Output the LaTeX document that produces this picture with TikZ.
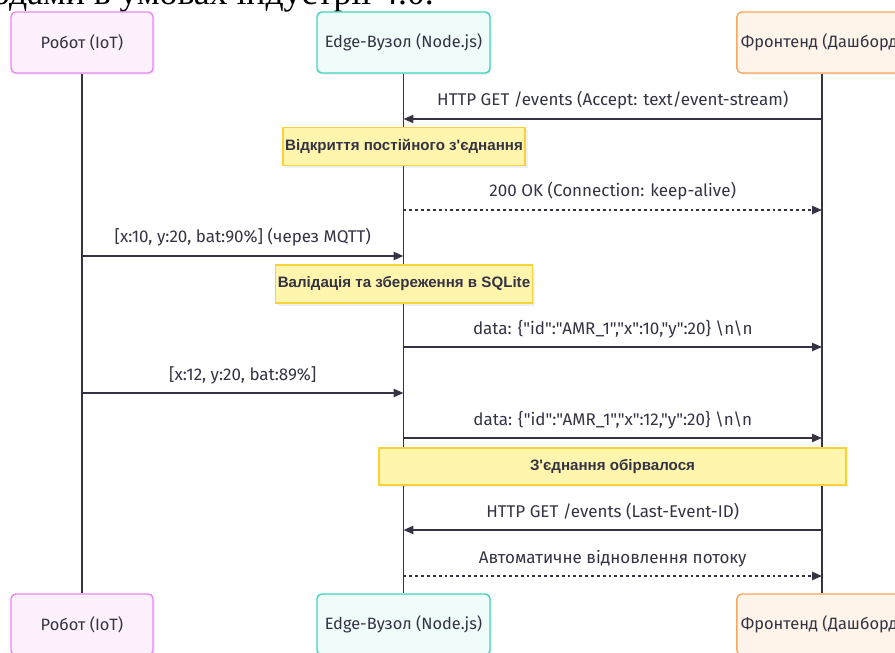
\documentclass[tikz,border=0pt]{standalone}
\usepackage{fontspec}
\newfontfamily\msgfont{Fira Sans}
\newfontfamily\notefont{Liberation Sans}
\newfontfamily\headfont{Liberation Serif}
\usetikzlibrary{arrows.meta,shadows}

\definecolor{linecol}{HTML}{333344}
\definecolor{robotfill}{HTML}{FDF0FD}
\definecolor{robotdraw}{HTML}{E987F2}
\definecolor{edgefill}{HTML}{EFFCF9}
\definecolor{edgedraw}{HTML}{3DD6BE}
\definecolor{frontfill}{HTML}{FFF4EA}
\definecolor{frontdraw}{HTML}{FCA55C}
\definecolor{notefill}{HTML}{FFF5AD}
\definecolor{notedraw}{HTML}{F7D238}

\tikzset{
  actor/.style={draw, rounded corners=4pt, line width=1.2pt, minimum height=1.83cm,
    text=linecol, font=\msgfont\fontsize{14}{16}\selectfont,
    drop shadow={shadow xshift=1.5pt, shadow yshift=-1.5pt, opacity=0.12}},
  lifeline/.style={draw=linecol, line width=1.2pt},
  msg/.style={draw=linecol, line width=1.4pt, -{Triangle[length=8.5pt, width=7pt]}},
  reply/.style={msg, dash pattern=on 2.5pt off 2.5pt},
  msglabel/.style={anchor=base, yshift=0.39cm, text=linecol,
    font=\msgfont\fontsize{14.5}{16}\selectfont},
  notebox/.style={draw=notedraw, fill=notefill, line width=1.2pt, inner xsep=2pt,
    minimum height=1.15cm, text=linecol, font=\notefont\bfseries\fontsize{12.9}{15}\selectfont,
    drop shadow={shadow xshift=2pt, shadow yshift=-2pt, opacity=0.12}}
}

\begin{document}
\begin{tikzpicture}[x=0.03cm, y=-0.03cm]
  \useasboundingbox (0,0) rectangle (895,653);
  \clip (0,0) rectangle (895,653);

  % Heading line running in from above
  \node[anchor=base west, inner sep=0pt, font=\headfont\fontsize{30.5}{34}\selectfont]
    (heading) at (-8,4.5) {одами в умовах індустрії 4.0.};

  % Drawing participants, top row
  \node[actor, draw=robotdraw, fill=robotfill, minimum width=4.26cm] (robotTop) at (82,42.5) {Робот (IoT)};
  \node[actor, draw=edgedraw, fill=edgefill, minimum width=5.19cm] (edgeTop) at (403.5,42.5) {Edge-Вузол (Node.js)};
  \node[actor, draw=frontdraw, fill=frontfill, minimum width=5.1cm] (frontTop) at (822,42.5) {Фронтенд (Дашборд)};

  % Drawing participants, bottom row
  \node[actor, draw=robotdraw, fill=robotfill, minimum width=4.26cm] (robotBot) at (82,624.5) {Робот (IoT)};
  \node[actor, draw=edgedraw, fill=edgefill, minimum width=5.19cm] (edgeBot) at (403.5,624.5) {Edge-Вузол (Node.js)};
  \node[actor, draw=frontdraw, fill=frontfill, minimum width=5.1cm] (frontBot) at (822,624.5) {Фронтенд (Дашборд)};

  % Drawing lifelines
  \draw[lifeline] (robotTop) -- (robotBot);
  \draw[lifeline] (edgeTop) -- (edgeBot);
  \draw[lifeline] (frontTop) -- (frontBot);

  % Drawing message Front -> Edge
  \draw[msg] (frontTop.south |- 0,119) -- (edgeTop.south |- 0,119)
    node[msglabel, midway] {HTTP GET /events (Accept: text/event-stream)};

  % Drawing note on Edge
  \node[notebox] (openNote) at (404,146.5) {Відкриття постійного з'єднання};

  % Drawing reply Edge -> Front
  \draw[reply] (edgeTop.south |- 0,210) -- (frontTop.south |- 0,210)
    node[msglabel, midway] {200 OK (Connection: keep-alive)};

  % Drawing message Robot -> Edge
  \draw[msg] (robotTop.south |- 0,256) -- (edgeTop.south |- 0,256)
    node[msglabel, midway] {[x:10, y:20, bat:90\%] (через MQTT)};

  % Drawing note on Edge
  \node[notebox] (saveNote) at (404,284) {Валідація та збереження в SQLite};

  % Drawing event Edge -> Front
  \draw[msg] (edgeTop.south |- 0,347) -- (frontTop.south |- 0,347)
    node[msglabel, midway] {data: \{"id":"AMR\_1","x":10,"y":20\} \textbackslash n\textbackslash n};

  % Drawing message Robot -> Edge
  \draw[msg] (robotTop.south |- 0,393) -- (edgeTop.south |- 0,393)
    node[msglabel, midway] {[x:12, y:20, bat:89\%]};

  % Drawing event Edge -> Front
  \draw[msg] (edgeTop.south |- 0,438) -- (frontTop.south |- 0,438)
    node[msglabel, midway] {data: \{"id":"AMR\_1","x":12,"y":20\} \textbackslash n\textbackslash n};

  % Drawing note over Edge and Front
  \node[notebox, minimum width=14.01cm, minimum height=1.11cm] (lostNote) at (612.5,466.5) {З'єднання обірвалося};

  % Drawing message Front -> Edge
  \draw[msg] (frontTop.south |- 0,530) -- (edgeTop.south |- 0,530)
    node[msglabel, midway] {HTTP GET /events (Last-Event-ID)};

  % Drawing reply Edge -> Front
  \draw[reply] (edgeTop.south |- 0,576) -- (frontTop.south |- 0,576)
    node[msglabel, midway] {Автоматичне відновлення потоку};
\end{tikzpicture}
\end{document}
